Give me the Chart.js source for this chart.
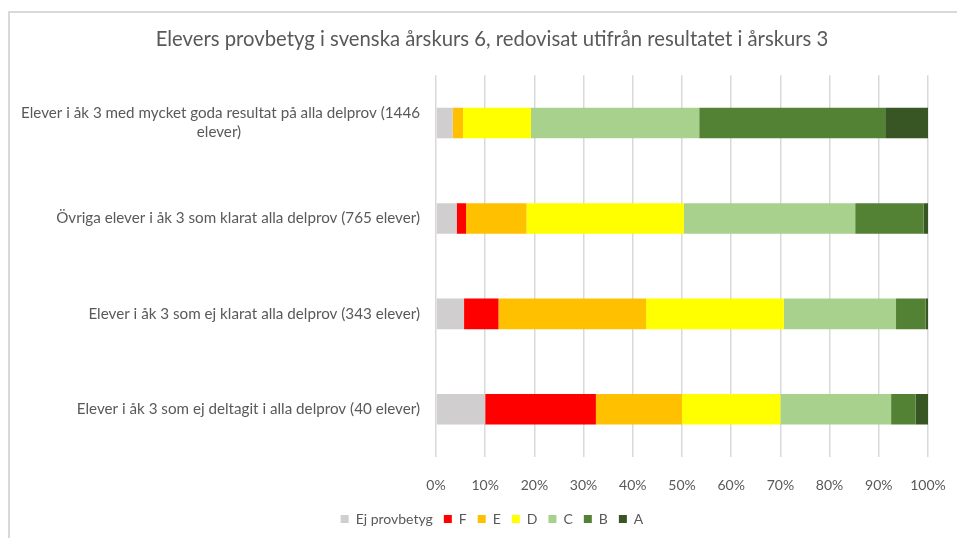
<!DOCTYPE html>
<html lang="sv">
<head>
<meta charset="utf-8">
<title>Elevers provbetyg</title>
<script src="https://cdn.jsdelivr.net/npm/chart.js@4.4.1/dist/chart.umd.min.js"></script>
<style>
    html, body { margin: 0; padding: 0; background: #fff; overflow: hidden; }
    #wrap { position: relative; width: 957px; height: 538px; overflow: hidden; }
    #frame { position: absolute; left: 8px; top: 11px; width: 1000px; height: 540px; border-left: 2px solid #d9d9d9; border-top: 2px solid #d9d9d9; }
    #chart { position: absolute; left: 0; top: 0; }
</style>
</head>
<body>
<div id="wrap">
    <div id="frame"></div>
    <!-- diagrammet är bredare än fönstret, högerkanten är beskuren som i originalet -->
    <canvas id="chart" width="974" height="538"></canvas>
</div>
<script>
const CATEGORIES = [
    ['Elever i åk 3 med mycket goda resultat på alla delprov (1446', 'elever)'],
    'Övriga elever i åk 3 som klarat alla delprov (765 elever)',
    'Elever i åk 3 som ej klarat alla delprov (343 elever)',
    'Elever i åk 3 som ej deltagit i alla delprov (40 elever)'
];

// andel elever (%) per betyg, en siffra per kategori ovan
const EJ = [3.4, 4.2, 5.7, 10.0];
const F  = [0.0, 1.9, 7.0, 22.5];
const E  = [2.1, 12.3, 30.0, 17.5];
const D  = [13.8, 32.0, 28.0, 20.0];
const C  = [34.2, 34.8, 22.8, 22.5];
const B  = [37.8, 13.9, 6.0, 5.0];
const A  = [8.7, 0.9, 0.5, 2.5];

const X_TICKS = ['0%', '10%', '20%', '30%', '40%', '50%', '60%', '70%', '80%', '90%', '100%'];

const GRADES = [
    { label: 'Ej provbetyg', data: EJ, color: '#d0cece' },
    { label: 'F', data: F, color: '#ff0000' },
    { label: 'E', data: E, color: '#ffc000' },
    { label: 'D', data: D, color: '#ffff00' },
    { label: 'C', data: C, color: '#a9d18e' },
    { label: 'B', data: B, color: '#548235' },
    { label: 'A', data: A, color: '#375623' }
];

const FONT = 'Lato, "Open Sans", sans-serif';
const TEXT_COLOR = '#595959';
const LABEL_SIZE = 15.2;

const ctx = document.getElementById('chart').getContext('2d');

// Excel centrerar raderna i en radbruten etikett; fyll ut andra raden med hårda mellanslag
function centerWrapped(label) {
    if (!Array.isArray(label)) return label;
    ctx.font = `${LABEL_SIZE}px ${FONT}`;
    const full = ctx.measureText(label[0]).width;
    return label.map(line => {
        const gap = (full - ctx.measureText(line).width) / 2;
        const n = Math.round(gap / ctx.measureText('\u00A0').width);
        return line + '\u00A0'.repeat(Math.max(0, n));
    });
}

new Chart(ctx, {
    type: 'bar',
    data: {
        labels: CATEGORIES.map(centerWrapped),
        datasets: GRADES.map(g => ({
            label: g.label,
            data: g.data,
            backgroundColor: g.color,
            borderWidth: 0,
            barPercentage: 0.32,
            categoryPercentage: 1
        }))
    },
    options: {
        indexAxis: 'y',
        responsive: false,
        animation: false,
        layout: { padding: { left: 10, right: 0, top: 0, bottom: 2 } },
        scales: {
            x: {
                stacked: true,
                min: 0,
                max: 100,
                ticks: {
                    stepSize: 10,
                    color: TEXT_COLOR,
                    font: { family: FONT, size: 14 },
                    padding: 20,
                    callback: (v, i) => X_TICKS[i]
                },
                grid: { color: '#d9d9d9', lineWidth: 1.5, drawTicks: false },
                border: { display: false },
                afterFit: s => { s.height = 44; }
            },
            y: {
                stacked: true,
                ticks: {
                    color: TEXT_COLOR,
                    font: { family: FONT, size: LABEL_SIZE, lineHeight: 1.25 },
                    padding: 16
                },
                grid: { display: false, drawTicks: false },
                border: { display: false },
                afterFit: s => { s.width = 436 - 10; }
            },
            // tom axel till höger som bara håller plats, så att rubrik och förklaring hamnar rätt
            spacer: {
                type: 'linear',
                position: 'right',
                ticks: { display: false },
                grid: { display: false, drawTicks: false },
                border: { display: false },
                afterFit: s => { s.width = 974 - 928; }
            }
        },
        plugins: {
            title: {
                display: true,
                text: 'Elevers provbetyg i svenska årskurs 6, redovisat utifrån resultatet i årskurs 3',
                color: TEXT_COLOR,
                font: { family: FONT, size: 20.3, weight: 'normal' },
                padding: { top: 27, bottom: 24 }
            },
            legend: {
                position: 'bottom',
                labels: {
                    color: TEXT_COLOR,
                    font: { family: FONT, size: 14 },
                    boxWidth: 8,
                    boxHeight: 8,
                    padding: 11
                }
            },
            tooltip: { enabled: false }
        }
    }
});
</script>
</body>
</html>
